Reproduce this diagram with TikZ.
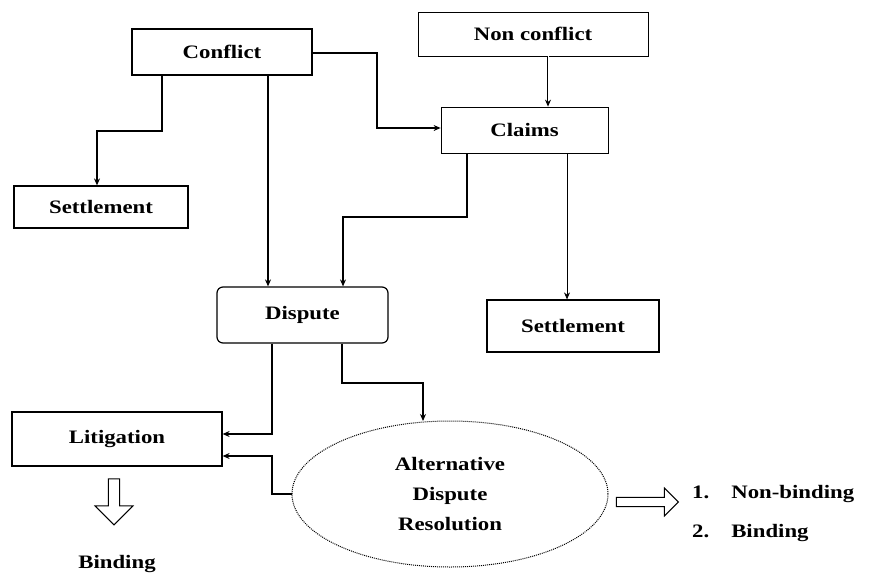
\documentclass[tikz,border=0pt]{standalone}
\usepackage{fontspec}
\setmainfont{Liberation Serif}
\newfontfamily\widefont[FakeStretch=1.2]{Liberation Serif}
\usetikzlibrary{arrows.meta,shapes.geometric,shapes.arrows}
\begin{document}
\begin{tikzpicture}[x=1pt,y=-1pt,
  box/.style={draw,line width=1.2pt,inner sep=0pt,font=\widefont\fontsize{19}{22}\selectfont\bfseries},
  conn/.style={line width=1.1pt,-{Stealth[length=7pt,width=6pt]}},
  lbl/.style={font=\widefont\fontsize{19}{22}\selectfont\bfseries,inner sep=0pt}]
\useasboundingbox (0,0) rectangle (874,578);
% boxes
\node[box,minimum width=180pt,minimum height=46pt] (conflict) at (222,52) {Conflict};
\node[box,line width=0.8pt,minimum width=230pt,minimum height=44pt] (noncon) at (533,34) {Non conflict};
\node[box,line width=0.8pt,minimum width=167pt,minimum height=46pt] (claims) at (524.5,130) {Claims};
\node[box,minimum width=174pt,minimum height=42pt] (setl) at (101,207) {Settlement};
\node[box,rounded corners=6pt,minimum width=171pt,minimum height=56pt] (dispute) at (302.5,315) {Dispute};
\node[box,minimum width=172pt,minimum height=52pt] (setr) at (573,326) {Settlement};
\node[box,minimum width=210pt,minimum height=54pt] (litig) at (117,439) {Litigation};
\node[draw,ellipse,densely dotted,line width=1pt,minimum width=316pt,minimum height=146pt,inner sep=0pt,
      font=\widefont\fontsize{19}{22}\selectfont\bfseries,align=center] (adr) at (450,494) {Alternative\\[8pt]Dispute\\[8pt]Resolution};
% connectors
\coordinate (c1) at (162,131);
\draw[conn] (conflict.south -| c1) |- (97,131) -- (setl.north -| 97,0);
\draw[conn] (conflict.south -| 268,0) -- (dispute.north -| 268,0);
\draw[conn] (conflict.east |- 0,53) -| (377,128) -- (claims.west |- 0,128);
\draw[conn,double,line width=0.8pt] (noncon.south -| 548,0) -- (claims.north -| 548,0);
\draw[conn] (claims.south -| 467,0) |- (343,217) -- (dispute.north -| 343,0);
\draw[conn,line width=0.8pt] (claims.south -| 567,0) -- (setr.north -| 567,0);
\draw[conn] (dispute.south -| 272,0) |- (litig.east |- 0,434);
\draw[conn] (dispute.south -| 342,0) |- (423,383) -- (423,421);
\draw[conn] (adr.west) -| (272,456) -- (litig.east |- 0,456);
% hollow arrows
\node[draw,single arrow,line width=1pt,shape border rotate=270,minimum height=46pt,minimum width=38pt,
      single arrow head extend=6pt,inner sep=2pt] (down) at (114,499) {};
\node[lbl] (binding) at (117,564) {Binding};
\node[draw,single arrow,line width=1pt,minimum height=62pt,minimum width=28pt,
      single arrow head extend=5pt,inner sep=2pt] (right) at (645,502) {};
\node[lbl,anchor=west] (n1) at (692,494) {1.\hspace{22pt}Non-binding};
\node[lbl,anchor=west] (n2) at (692,533) {2.\hspace{22pt}Binding};
\end{tikzpicture}
\end{document}
